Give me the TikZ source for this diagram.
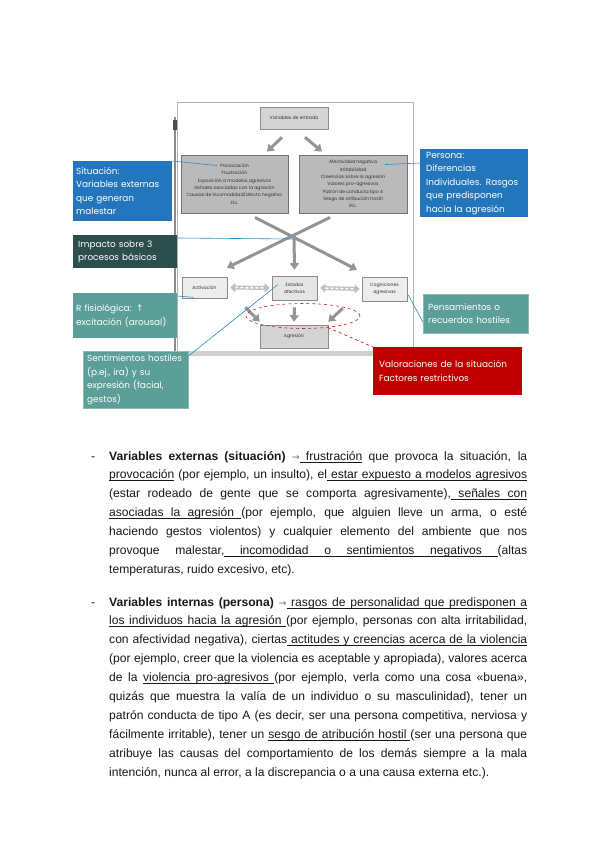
\documentclass[tikz,border=0pt]{standalone}
\usepackage{fontspec}
\setmainfont{Liberation Sans}
\newfontfamily\gothic{Poppins}
\newfontfamily\symfont{DejaVu Sans}
\usetikzlibrary{positioning,arrows.meta,shapes.geometric,calc}

\definecolor{calloutblue}{RGB}{36,118,188}
\definecolor{darkteal}{RGB}{44,78,77}
\definecolor{softteal}{RGB}{92,158,152}
\definecolor{darkred}{RGB}{192,0,0}
\definecolor{linkblue}{RGB}{40,140,200}
\newcommand{\bodyarrow}{{\symfont\fontsize{9.5}{9.5}\selectfont\color{black!55}→}}
% underlined words, with stretchable underlined gaps
\newcommand{\ulword}[1]{\setbox0\hbox{#1}\rlap{\rule[-2pt]{\wd0}{0.5pt}}\box0\relax}
\newcommand{\ulgap}{\leaders\hrule height -1.5pt depth 2pt\hskip\fontdimen2\font plus\fontdimen3\font minus\fontdimen4\font\relax}
\def\ulsplit#1 #2\ulend{\ulword{#1}\ifx\relax#2\relax\else\ulgap\ulsplit#2\ulend\fi}
\newcommand{\uln}[1]{\ulsplit#1 \ulend}

\begin{document}
\begin{tikzpicture}[x=1pt,y=-1pt,
    inbox/.style={draw=black!45, line width=0.6pt, inner sep=0pt, align=center,
        font=\gothic\fontsize{4.6}{7.3}\selectfont, text=black!80},
    callout/.style={anchor=north west, inner ysep=0pt, align=left, text=white,
        font=\gothic\fontsize{8.9}{13.5}\selectfont},
    bigarrow/.style={black!42, line width=3pt, -{Triangle[length=6.5pt,width=9pt]}},
    dashband/.style={black!25, line width=4pt, {Triangle[length=5pt,width=9pt]}-{Triangle[length=5pt,width=9pt]}},
    dashinner/.style={white, line width=1.6pt, dash pattern=on 3pt off 2pt, shorten <=5pt, shorten >=5pt},
    link/.style={linkblue, line width=0.6pt},
    body/.style={anchor=base west, inner sep=0pt, font=\fontsize{12.1}{19}\selectfont, text=black!90}]
    \fill[white] (0,0) rectangle (600,848);
    \useasboundingbox (0,0) rectangle (600,848);

    % panel of the figure
    \draw[black!30, line width=0.6pt, fill=white] (177,102) rectangle (413,352);
    \fill[black!18] (172,351) rectangle (415,356);
    \draw[black!45, line width=2pt] (175,117) -- (175,352);
    \fill[black!70] (173,120) rectangle (177,130);

    % boxes of the model
    \node[inbox, fill=black!17, minimum width=68pt, minimum height=22pt] (ent) at (294,118) {Variables de entrada};
    \node[inbox, fill=black!27, draw=black!55, line width=0.9pt, minimum width=107pt, minimum height=58pt] (sit) at (234.5,184)
        {Provocación\\Frustración\\Exposición a modelos agresivos\\Señales asociadas con la agresión\\Causas de incomodidad/afecto negativo\\Etc.};
    \node[inbox, fill=black!27, draw=black!55, line width=0.9pt, minimum width=108pt, minimum height=58pt] (per) at (353,184)
        {Afectividad negativa\\Irritabilidad\\Creencias sobre la agresión\\Valores pro-agresivos\\Patrón de conducta tipo A\\Sesgo de atribución hostil\\Etc.};
    \node[inbox, fill=black!7, minimum width=45pt, minimum height=21pt] (act) at (204.5,287.5) {Activación};
    \node[inbox, fill=black!10, minimum width=45pt, minimum height=24pt] (est) at (294.5,288) {Estados\\afectivos};
    \node[inbox, fill=black!7, minimum width=45pt, minimum height=24pt] (cog) at (384.5,289) {Cogniciones\\agresivas};
    \node[inbox, fill=black!17, minimum width=68pt, minimum height=23pt] (agr) at (294,336.5) {Agresión};
    \coordinate (cross) at (294,236);

    % gray arrows
    \draw[bigarrow] ([xshift=-12pt,yshift=-8pt]ent.south) -- ([xshift=32.5pt,yshift=3pt]sit.north);
    \draw[bigarrow] ([xshift=11pt,yshift=-8pt]ent.south) -- ([xshift=-31pt,yshift=3pt]per.north);
    \draw[bigarrow] ([xshift=20.5pt,yshift=-4pt]sit.south) -- ([xshift=-27.5pt,yshift=7pt]cog.north);
    \draw[bigarrow] ([xshift=-23pt,yshift=-4pt]per.south) -- ([xshift=22.5pt,yshift=9pt]act.north);
    \draw[bigarrow] (cross) -- ([yshift=6pt]est.north);
    \draw[bigarrow] ([xshift=18pt,yshift=-9pt]act.south east) -- ([yshift=3pt]agr.north west);
    \draw[bigarrow] ([yshift=-7pt]est.south) -- ([yshift=3pt]agr.north);
    \draw[bigarrow] ([xshift=-19pt,yshift=-7pt]cog.south west) -- ([yshift=3pt]agr.north east);
    \foreach \a/\b in {act/est, est/cog} {
        \draw[dashband] ([xshift=3pt]\a.east) -- ([xshift=-2pt]\b.west);
        \draw[dashinner] ([xshift=3pt]\a.east) -- ([xshift=-2pt]\b.west);
    }
    \node[draw=darkred!85, dashed, ellipse, line width=0.6pt, minimum width=114pt, minimum height=25pt, inner sep=0pt] (ell) at (303,316) {};

    % notes
    \node[callout, fill=calloutblue, inner xsep=3pt, text width=93pt, minimum height=60pt] (sitc) at (73,161)
        {Situación:\\Variables externas\\que generan\\malestar};
    \node[callout, fill=calloutblue, inner xsep=6pt, text width=96pt, minimum height=68pt] (perc) at (420,149)
        {Persona:\\Diferencias\\Individuales. Rasgos\\que predisponen\\hacia la agresión};
    \node[callout, fill=darkteal, inner xsep=5pt, text width=94pt, minimum height=33pt] (impc) at (73,235)
        {Impacto sobre 3\\procesos básicos};
    \node[callout, fill=softteal, inner xsep=3pt, text width=98pt, minimum height=45pt] (fisc) at (73,293)
        {R fisiológica: {\symfont ↑}\\excitación (arousal)};
    \node[callout, fill=softteal, draw=softteal!70!white, inner xsep=4pt, text width=97pt, minimum height=57pt] (sentc) at (83,351)
        {Sentimientos hostiles\\(p.ej., ira) y su\\expresión (facial,\\gestos)};
    \node[callout, fill=softteal, draw=softteal!70!white, inner xsep=5pt, text width=95pt, minimum height=39pt] (penc) at (423,294)
        {Pensamientos o\\recuerdos hostiles};
    \node[callout, fill=darkred, inner xsep=6pt, text width=137pt, minimum height=48pt] (valc) at (373,347)
        {Valoraciones de la situación\\Factores restrictivos};

    % links from notes
    \draw[link] (sitc.north east) -- ([xshift=-17.5pt,yshift=-11pt]sit.north);
    \draw[link] ([xshift=32pt,yshift=-10pt]per.north) -- ([yshift=-14pt]perc.north west);
    \draw[link] ([yshift=-3pt]impc.north east) -- ([yshift=-3pt]cross);
    \draw[link] ([yshift=-3pt]fisc.north east) -- ([xshift=-11pt,yshift=1pt]act.south);
    \draw[link] ([yshift=-5pt]sentc.north east) -- ([xshift=6pt,yshift=-9pt]est.north west);
    \draw[link] ([xshift=1pt,yshift=-6pt]cog.east) -- ([yshift=-8.5pt]penc.west);
    \draw[darkred, dashed, line width=0.6pt] (ell.-25) -- (valc.north west);

    % text below the figure
    \node[body] (da) at (91,460) {-};
    \foreach \n/\y/\txt in {
        1/460/{\textbf{Variables externas (situación)} \bodyarrow\ulgap\uln{frustración} que provoca la situación, la},
        2/478.9/{\uln{provocación} (por ejemplo, un insulto), el\ulgap\uln{estar expuesto a modelos agresivos}},
        3/497.8/{(estar rodeado de gente que se comporta agresivamente),\ulgap\uln{señales con}},
        4/516.7/{\uln{asociadas la agresión}\ulgap(por ejemplo, que alguien lleve un arma, o esté},
        5/535.6/{haciendo gestos violentos) y cualquier elemento del ambiente que nos},
        6/554.5/{provoque malestar,\ulgap\uln{incomodidad o sentimientos negativos}\ulgap(altas}}
        \node[body] (pa\n) at (109,\y) {\makebox[418pt][s]{\txt}};
    \node[body] (pa7) at (109,573.4) {temperaturas, ruido excesivo, etc).};

    \node[body] (db) at (91,606) {-};
    \foreach \n/\y/\txt in {
        1/606/{\textbf{Variables internas (persona)} \bodyarrow\ulgap\uln{rasgos de personalidad que predisponen a}},
        2/624.9/{\uln{los individuos hacia la agresión}\ulgap(por ejemplo, personas con alta irritabilidad,},
        3/643.8/{con afectividad negativa), ciertas\ulgap\uln{actitudes y creencias acerca de la violencia}},
        4/662.7/{(por ejemplo, creer que la violencia es aceptable y apropiada), valores acerca},
        5/681.6/{de la \uln{violencia pro-agresivos}\ulgap(por ejemplo, verla como una cosa «buena»,},
        6/700.5/{quizás que muestra la valía de un individuo o su masculinidad), tener un},
        7/719.4/{patrón conducta de tipo A (es decir, ser una persona competitiva, nerviosa y},
        8/738.3/{fácilmente irritable), tener un \uln{sesgo de atribución hostil}\ulgap(ser una persona que},
        9/757.2/{atribuye las causas del comportamiento de los demás siempre a la mala}}
        \node[body] (pb\n) at (109,\y) {\makebox[418pt][s]{\txt}};
    \node[body] (pb10) at (109,776.1) {intención, nunca al error, a la discrepancia o a una causa externa etc.).};
\end{tikzpicture}
\end{document}
